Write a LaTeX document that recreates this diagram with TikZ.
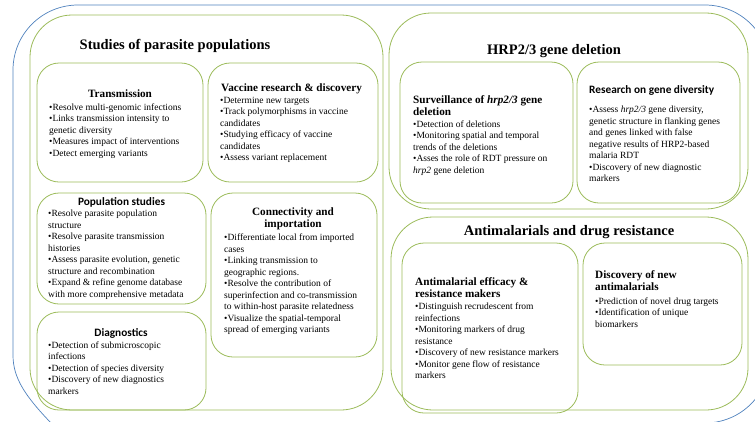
\documentclass[tikz,border=0pt]{standalone}
\usepackage{fontspec}
\setmainfont{Liberation Serif}
\newfontfamily\calib{Carlito}
\definecolor{grn}{RGB}{155,187,89}
\definecolor{blu}{RGB}{79,129,189}
\tikzset{
  gbox/.style={draw=grn, line width=0.8pt, rounded corners=22pt, inner sep=0pt, outer sep=0pt},
  bigbox/.style={gbox, rounded corners=42pt},
  bigtitle/.style={font=\fontsize{14.5}{17}\selectfont\bfseries, anchor=base, inner sep=0pt},
  subtitle/.style={font=\fontsize{11.2}{12.5}\selectfont\bfseries, inner sep=0pt},
  sanstitle/.style={font=\calib\fontsize{11.3}{13}\selectfont\bfseries, inner sep=0pt},
  body/.style={font=\fontsize{9.5}{11.5}\selectfont, align=left, anchor=base west, inner sep=0pt},
  blueline/.style={draw=blu, line width=0.7pt}
}
\begin{document}
\begin{tikzpicture}[x=1pt,y=-1pt]
\useasboundingbox (0,0) rectangle (755,421);
\clip (0,0) rectangle (755,421);
% outer blue outline
\coordinate (b0) at (52,424);
\coordinate (b1) at (13,355);
\coordinate (b2) at (13,5);
\coordinate (b3) at (770,5);
\coordinate (b4) at (770,423);
\coordinate (b5) at (60,423);
\draw[blueline] (b0) .. controls (25,396) and (13,378) .. (b1) [rounded corners=65pt] -- (b2) -- (b3) -- (b4) -- (b5);

% big green boxes
\node[bigbox, minimum width=353pt, minimum height=395pt] (studies) at (206.5,212.5) {};
\node[bigbox, minimum width=359pt, minimum height=196pt] (hrp) at (568.5,111) {};
\node[bigbox, minimum width=357pt, minimum height=193pt] (anti) at (569.5,313.5) {};

% small boxes, left
\node[gbox, minimum width=166pt, minimum height=119pt] (trans) at (120,122.5) {};
\node[gbox, minimum width=170pt, minimum height=119pt] (vacc) at (293,122.5) {};
\node[gbox, minimum width=169pt, minimum height=111pt] (pop) at (121.5,248.5) {};
\node[gbox, minimum width=169pt, minimum height=98pt] (diag) at (121.5,361) {};
\node[gbox, minimum width=166pt, minimum height=164pt] (conn) at (294,275) {};
% small boxes, right
\node[gbox, minimum width=173pt, minimum height=141pt] (surv) at (486.5,132.5) {};
\node[gbox, minimum width=163pt, minimum height=141pt] (res) at (658.5,132.5) {};
\node[gbox, minimum width=176pt, minimum height=170pt] (effi) at (490,328) {};
\node[gbox, minimum width=159pt, minimum height=122pt] (disc) at (662.5,304) {};

% big titles
\node[bigtitle] (tstudies) at (175,49) {Studies of parasite populations};
\node[bigtitle] (thrp) at (554,54) {HRP2/3 gene deletion};
\node[bigtitle] (tanti) at (569,235) {Antimalarials and drug resistance};

% sub titles (base = baseline of last line)
\node[subtitle, anchor=base] (ttrans) at (120,97) {Transmission};
\node[subtitle, anchor=base west] (tvacc) at (221,91) {Vaccine research \& discovery};
\node[sanstitle, anchor=base] (tpop) at (121.5,205) {Population studies};
\node[sanstitle, anchor=base] (tdiag) at (121,336) {Diagnostics};
\node[subtitle, anchor=base, align=center] (tconn) at (293,227.5) {Connectivity and\\importation};
\node[subtitle, anchor=base west, align=left] (tsurv) at (413,115.5) {Surveillance of \textit{hrp2/3} gene\\deletion};
\node[sanstitle, anchor=base west] (tres) at (589,93) {Research on gene diversity};
\node[subtitle, anchor=base west, align=left] (teffi) at (415,297.5) {Antimalarial efficacy \&\\resistance makers};
\node[subtitle, anchor=base west, align=left] (tdisc) at (595,290.5) {Discovery of new\\antimalarials};

% body texts (base = baseline of last line)
\node[body] (btrans) at (49,156) {•Resolve multi-genomic infections\\•Links transmission intensity to\\genetic diversity\\•Measures impact of interventions\\•Detect emerging variants};
\node[body] (bvacc) at (220,160.5) {•Determine new targets\\•Track polymorphisms in vaccine\\candidates\\•Studying efficacy of vaccine\\candidates\\•Assess variant replacement};
\node[body] (bpop) at (48,297) {•Resolve parasite population\\structure\\•Resolve parasite transmission\\histories\\•Assess parasite evolution, genetic\\structure and recombination\\•Expand \& refine genome database\\with more comprehensive metadata};
\node[body] (bdiag) at (48,394) {•Detection of submicroscopic\\infections\\•Detection of species diversity\\•Discovery of new diagnostics\\markers};
\node[body] (bconn) at (224,332.5) {•Differentiate local from imported\\cases\\•Linking transmission to\\geographic regions.\\•Resolve the contribution of\\superinfection and co-transmission\\to within-host parasite relatedness\\•Visualize the spatial-temporal\\spread of emerging variants};
\node[body] (bsurv) at (413,173) {•Detection of deletions\\•Monitoring spatial and temporal\\trends of the deletions\\•Asses the role of RDT pressure on\\\textit{hrp2} gene deletion};
\node[body] (bres) at (589,181.5) {•Assess \textit{hrp2/3} gene diversity,\\genetic structure in flanking genes\\and genes linked with false\\negative results of HRP2-based\\malaria RDT\\•Discovery of new diagnostic\\markers};
\node[body] (beffi) at (415,378.5) {•Distinguish recrudescent from\\reinfections\\•Monitoring markers of drug\\resistance\\•Discovery of new resistance markers\\•Monitor gene flow of resistance\\markers};
\node[body] (bdisc) at (595,327) {•Prediction of novel drug targets\\•Identification of unique\\biomarkers};
\end{tikzpicture}
\end{document}
